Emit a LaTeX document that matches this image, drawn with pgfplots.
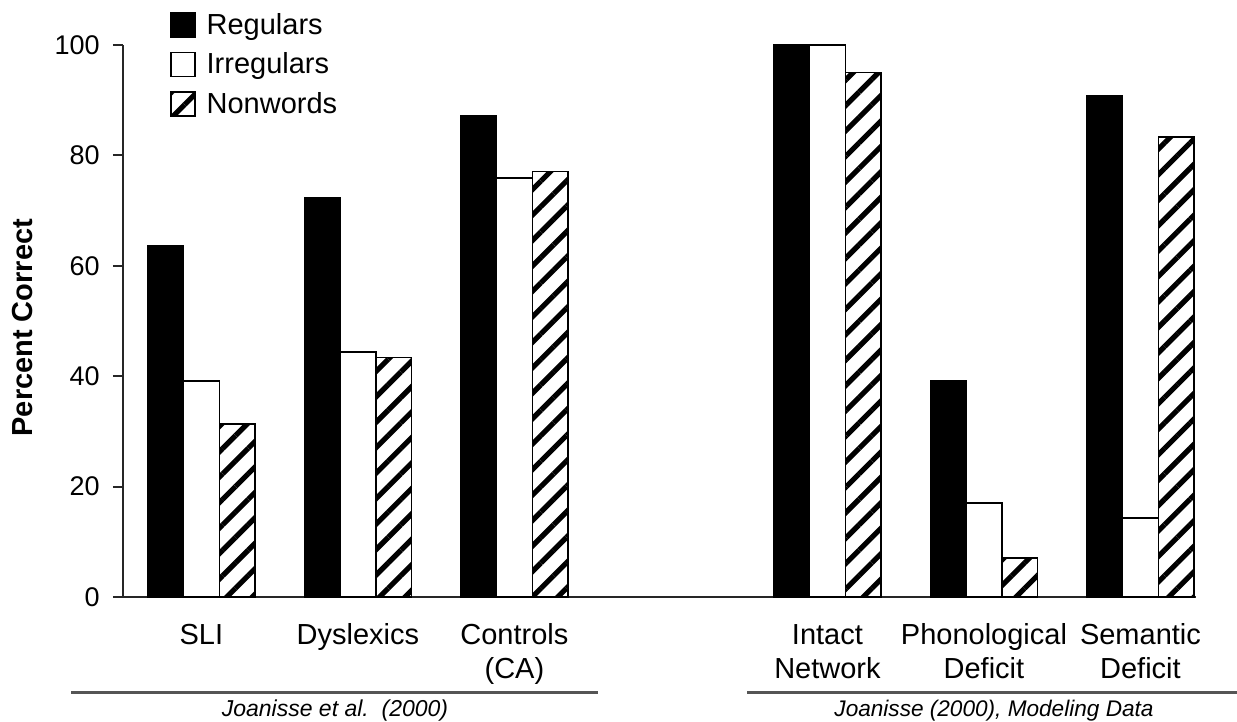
\documentclass[border=0pt]{standalone}
\usepackage{fontspec}
\setmainfont{Liberation Sans}
\usepackage{pgfplots}
\usepackage{pgfplotstable}
\pgfplotsset{compat=1.18}
\usetikzlibrary{patterns.meta}

\pgfplotstableread{
x reg irr non
0 63.6 39.1 31.3
1 72.4 44.4 43.4
2 87.1 75.9 77.1
4 100 100 95.0
5 39.1 17.0 7.1
6 90.8 14.3 83.3
}\datatable

\newcommand\lab[2]{\begin{tabular}[t]{@{}c@{}}#1\\#2\end{tabular}}

\pgfplotsset{
  mylegend/.style={legend image code/.code={\draw[##1, line width=0.8pt] (0pt,-6pt) rectangle (12pt,6pt);}},
}

\begin{document}
\begin{tikzpicture}[x=1pt,y=1pt]
\useasboundingbox (0,0) rectangle (618.5,361);
\begin{axis}[
  at={(61.5pt,62.5pt)}, anchor=south west,
  scale only axis, width=536.5pt, height=276pt,
  xmin=-0.501, xmax=6.355, ymin=0, ymax=100,
  clip=false,
  ybar, bar width=0.228,
  axis x line=bottom, axis y line=left,
  axis line style={line width=1pt, black!85, -},
  every outer x axis line/.append style={-},
  every outer y axis line/.append style={-},
  xtick={0,1,2,4,5,6},
  xticklabels={\lab{SLI}{}, \lab{Dyslexics}{}, \lab{Controls}{(CA)}, \lab{Intact}{Network}, \lab{Phonological}{Deficit}, \lab{Semantic}{Deficit}},
  x tick label style={anchor=base, inner sep=0pt, yshift=-19pt, font=\fontsize{14.5}{17}\selectfont},
  major x tick style={draw=none},
  ytick={0,20,40,60,80,100},
  tick align=outside, major tick length=5pt,
  y tick style={line width=1pt, black!85},
  y tick label style={anchor=east, inner sep=0pt, xshift=-6.5pt, font=\fontsize{13.5}{16}\selectfont, /pgf/number format/assume math mode=true},
  ylabel={Percent Correct},
  ylabel style={at={(axis description cs:-0.0932,0.488)}, anchor=center, font=\bfseries\fontsize{14.5}{16}\selectfont},
  legend style={at={(axis description cs:0.0435,1.06)}, anchor=north west, draw=none, fill=none, inner sep=0pt, row sep=7pt, column sep=5.5pt, font=\fontsize{14.5}{17}\selectfont, nodes={inner sep=0pt}},
  legend cell align=left,
]
\addplot[fill=black, draw=black, line width=0.75pt, bar shift=-0.228, mylegend] table[x=x,y=reg]{\datatable};
\addplot[fill=white, draw=black, line width=0.75pt, bar shift=0, mylegend] table[x=x,y=irr]{\datatable};
\addplot[pattern={Lines[angle=45,distance=9pt,line width=2.6pt]}, draw=black, line width=0.75pt, bar shift=0.228, mylegend] table[x=x,y=non]{\datatable};
\legend{Regulars, Irregulars, Nonwords}
\end{axis}
\draw[line width=1.5pt, color={rgb,255:red,85;green,85;blue,85}] (35.5,14.5) -- (299,14.5);
\draw[line width=1.5pt, color={rgb,255:red,85;green,85;blue,85}] (373.5,14.5) -- (618.5,14.5);
\node[anchor=base, font=\itshape\fontsize{11.5}{13}\selectfont] at (167.5,2.5) {Joanisse et al.\ \ (2000)};
\node[anchor=base, font=\itshape\fontsize{11.3}{13}\selectfont] at (497,2.5) {Joanisse (2000), Modeling Data};
\end{tikzpicture}
\end{document}
